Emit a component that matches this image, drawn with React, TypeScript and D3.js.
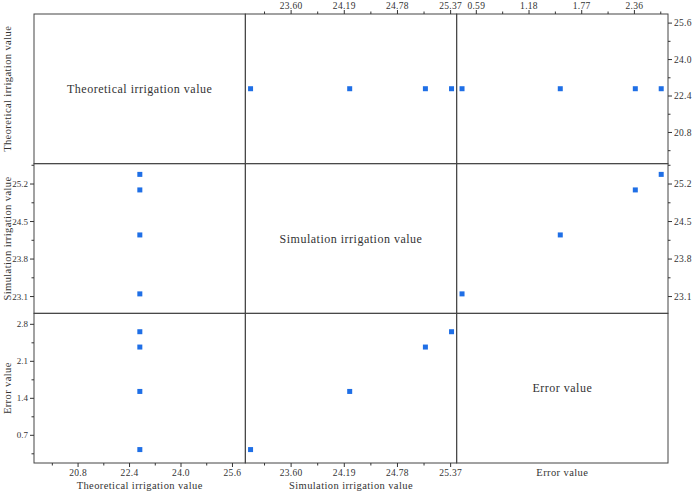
import React from 'react';
import * as d3 from 'd3';

// variables of the scatter matrix (4 observations each)
const variableNames = ['Theoretical irrigation value', 'Simulation irrigation value', 'Error value'];
const theoretical = [22.72, 22.72, 22.72, 22.72];
const simulation = [23.15, 24.25, 25.09, 25.38];
const errorValue = [0.43, 1.53, 2.37, 2.66];

// tick labels
const theoreticalTicks = [20.8, 22.4, 24.0, 25.6];
const simulationXTicks = [23.6, 24.19, 24.78, 25.37];
const simulationYTicks = [23.1, 23.8, 24.5, 25.2];
const errorXTicks = [0.59, 1.18, 1.77, 2.36];
const errorYTicks = [0.7, 1.4, 2.1, 2.8];

const columns = [theoretical, simulation, errorValue];
const xTicks = [theoreticalTicks, simulationXTicks, errorXTicks];
const yTicks = [theoreticalTicks, simulationYTicks, errorYTicks];
const xDecimals = [1, 2, 2];
const yDecimals = [1, 1, 1];
const xDomains: [number, number][] = [[19.43, 26.0], [23.092, 25.437], [0.37, 2.736]];
const yDomains: [number, number][] = [[19.43, 26.0], [22.787, 25.58], [0.176, 3.008]];

const W = 692, H = 491;
const left = 34, right = 668, top = 14, bottom = 463;
const n = 3;
const cw = (right - left) / n;
const ch = (bottom - top) / n;
const font = '"Liberation Serif", "DejaVu Serif", serif';
const ink = '#333';
const blue = '#1f6fe6';

function minorTicks(ticks: number[], domain: [number, number]) {
  const step = ticks[1] - ticks[0];
  const out: number[] = [];
  for (let v = ticks[0] - step / 2; v <= domain[1] + 1e-9; v += step / 2) {
    if (v >= domain[0] - 1e-9 && !ticks.some(t => Math.abs(t - v) < 1e-6)) out.push(v);
  }
  return out;
}

export default function App() {
  const xs = xDomains.map((d, j) => d3.scaleLinear().domain(d).range([left + j * cw, left + (j + 1) * cw]));
  const ys = yDomains.map((d, i) => d3.scaleLinear().domain(d).range([top + (i + 1) * ch, top + i * ch]));

  const cells: React.ReactNode[] = [];
  for (let i = 0; i < n; i++) {
    for (let j = 0; j < n; j++) {
      const x0 = left + j * cw, y0 = top + i * ch;
      cells.push(
        <rect key={`c${i}${j}`} x={x0} y={y0} width={cw} height={ch} fill="none" stroke="#444" strokeWidth={1} />
      );
      if (i === j) {
        cells.push(
          <text key={`d${i}`} x={x0 + cw / 2} y={y0 + ch / 2} dy="0.35em" textAnchor="middle"
            fontSize={12} letterSpacing={0.5} fill={ink}>{variableNames[i]}</text>
        );
      } else {
        const xv = columns[j], yv = columns[i];
        xv.forEach((v, k) => {
          cells.push(
            <rect key={`p${i}${j}${k}`} x={xs[j](v) - 2.5} y={ys[i](yv[k]) - 2.5} width={5} height={5} fill={blue} />
          );
        });
      }
    }
  }

  const axes: React.ReactNode[] = [];
  // top (cols 1,2) and bottom (cols 0,1) axes
  for (let j = 0; j < n; j++) {
    const sx = xs[j];
    const mins = minorTicks(xTicks[j], xDomains[j]);
    const fmt = d3.format(`.${xDecimals[j]}f`);
    if (j > 0) {
      xTicks[j].forEach(t => {
        axes.push(<line key={`tt${j}${t}`} x1={sx(t)} x2={sx(t)} y1={top} y2={top - 4} stroke={ink} />);
        axes.push(<text key={`tl${j}${t}`} x={sx(t)} y={9} textAnchor="middle" fontSize={9.5} letterSpacing={0.3} fill={ink}>{fmt(t)}</text>);
      });
      mins.forEach(t => axes.push(<line key={`tm${j}${t}`} x1={sx(t)} x2={sx(t)} y1={top} y2={top - 2.5} stroke={ink} />));
    }
    if (j < 2) {
      xTicks[j].forEach(t => {
        axes.push(<line key={`bt${j}${t}`} x1={sx(t)} x2={sx(t)} y1={bottom} y2={bottom + 4} stroke={ink} />);
        axes.push(<text key={`bl${j}${t}`} x={sx(t)} y={476} textAnchor="middle" fontSize={9.5} letterSpacing={0.3} fill={ink}>{fmt(t)}</text>);
      });
      mins.forEach(t => axes.push(<line key={`bm${j}${t}`} x1={sx(t)} x2={sx(t)} y1={bottom} y2={bottom + 2.5} stroke={ink} />));
      axes.push(<text key={`bx${j}`} x={left + j * cw + cw / 2} y={489} textAnchor="middle" fontSize={10.5} letterSpacing={0.4} fill={ink}>{variableNames[j]}</text>);
    } else {
      axes.push(<text key={`bx${j}`} x={left + j * cw + cw / 2} y={476} textAnchor="middle" fontSize={10.5} letterSpacing={0.4} fill={ink}>{variableNames[j]}</text>);
    }
  }
  // left (rows 1,2) and right (rows 0,1) axes
  for (let i = 0; i < n; i++) {
    const sy = ys[i];
    const mins = minorTicks(yTicks[i], yDomains[i]);
    const fmt = d3.format(`.${yDecimals[i]}f`);
    if (i > 0) {
      yTicks[i].forEach(t => {
        axes.push(<line key={`lt${i}${t}`} x1={left} x2={left - 4} y1={sy(t)} y2={sy(t)} stroke={ink} />);
        axes.push(<text key={`ll${i}${t}`} x={28} y={sy(t)} dy="0.35em" textAnchor="end" fontSize={9} fill={ink}>{fmt(t)}</text>);
      });
      mins.forEach(t => axes.push(<line key={`lm${i}${t}`} x1={left} x2={left - 2.5} y1={sy(t)} y2={sy(t)} stroke={ink} />));
    }
    if (i < 2) {
      yTicks[i].forEach(t => {
        axes.push(<line key={`rt${i}${t}`} x1={right} x2={right + 4} y1={sy(t)} y2={sy(t)} stroke={ink} />);
        axes.push(<text key={`rl${i}${t}`} x={674} y={sy(t)} dy="0.35em" textAnchor="start" fontSize={9.5} letterSpacing={0.3} fill={ink}>{fmt(t)}</text>);
      });
      mins.forEach(t => axes.push(<line key={`rm${i}${t}`} x1={right} x2={right + 2.5} y1={sy(t)} y2={sy(t)} stroke={ink} />));
    }
    const cy = top + i * ch + ch / 2;
    axes.push(
      <text key={`ly${i}`} transform={`translate(11,${cy}) rotate(-90)`} textAnchor="middle" fontSize={10.5} letterSpacing={0.4} fill={ink}>{variableNames[i]}</text>
    );
  }

  return (
    <svg width={W} height={H} style={{ position: 'absolute', left: 0, top: 0, background: '#fff' }} fontFamily={font}>
      {cells}
      {axes}
    </svg>
  );
}
